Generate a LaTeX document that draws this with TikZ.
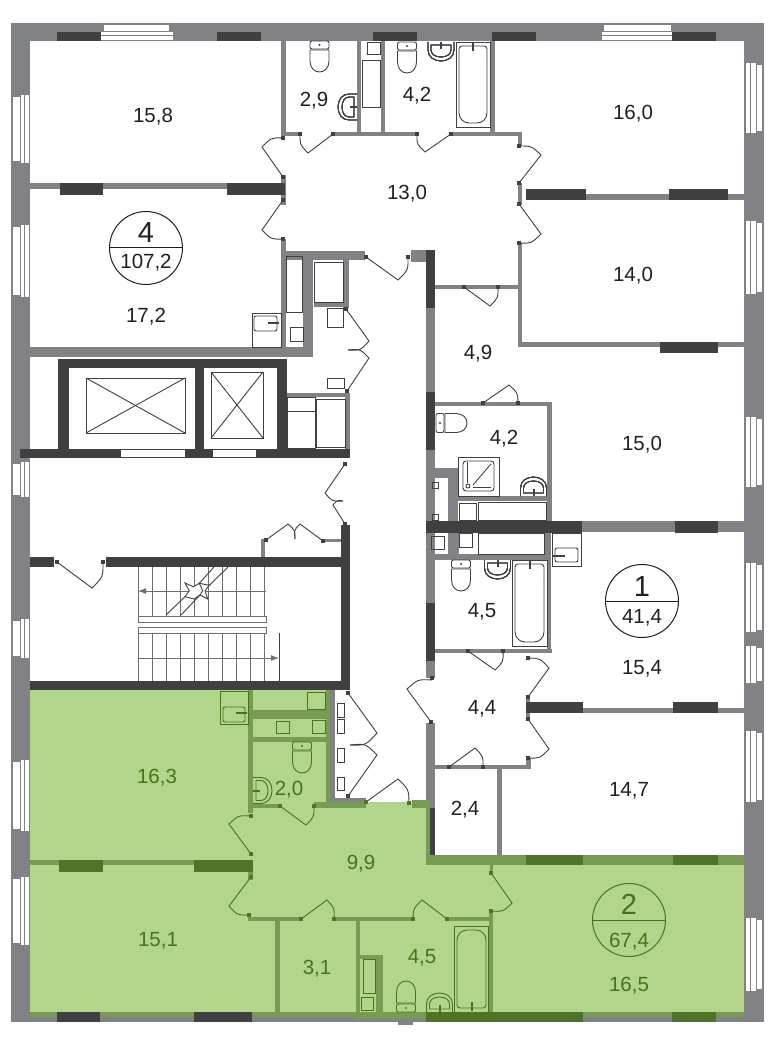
\documentclass[tikz,border=0pt]{standalone}
\usepackage{fontspec}
\setmainfont{Liberation Sans}
\usetikzlibrary{calc,arrows.meta}
\definecolor{wallgray}{HTML}{808285}
\definecolor{walldark}{HTML}{404041}
\definecolor{wallgreen}{HTML}{779B52}
\definecolor{darkgreen}{HTML}{4F7329}
\definecolor{roomgreen}{HTML}{B1D68B}
\definecolor{textgreen}{HTML}{487419}
\definecolor{textblack}{HTML}{231F20}
\colorlet{fixcol}{walldark}
\tikzset{
  fixline/.style={draw=fixcol,line width=0.9pt},
  tapline/.style={draw=fixcol,line width=2pt},
  doorline/.style={draw=fixcol,line width=0.9pt},
  stairline/.style={draw=wallgray!85!black,line width=1pt},
  roomlabel/.style={font=\fontsize{20.5}{24}\selectfont,text=textblack,inner sep=0pt,anchor=base,yshift=-7pt},
  greenlabel/.style={roomlabel,text=textgreen},
  bignum/.style={roomlabel,font=\fontsize{29}{32}\selectfont,yshift=-3pt},
  flatmark/.style={circle,draw=textblack,line width=1pt,minimum size=73pt,inner sep=0pt},
}
% one door leaf: base, tip of leaf, end of swing
\newcommand{\doorleaf}[6]{%
  \draw[doorline] (#1,#2) -- (#3,#4)
    .. controls ($.57*(#3,#4)+.57*(#5,#6)-.14*(#1,#2)$) .. (#5,#6);}
\newcommand{\toilet}[3]{%
  \begin{scope}[shift={(#1,#2)},rotate=#3]
    \draw[fixline,rounded corners=2pt] (-9.5,0) rectangle (9.5,8);
    \fill[fixcol] (0,4) circle(1.2);
    \draw[fixline] (-9.5,9) -- (-9.5,20) .. controls (-9.5,27) and (-5,31) .. (0,31)
      .. controls (5,31) and (9.5,27) .. (9.5,20) -- (9.5,9) -- cycle;
  \end{scope}}
\newcommand{\washbasin}[3]{%
  \begin{scope}[shift={(#1,#2)},rotate=#3]
    \draw[fixline] (-13,0) -- (-13,8) .. controls (-13,15) and (-7,19) .. (0,19)
      .. controls (7,19) and (13,15) .. (13,8) -- (13,0);
    \draw[fixline] (-10,3) -- (-10,8) .. controls (-10,12) and (-6,15) .. (0,15)
      .. controls (6,15) and (10,12) .. (10,8) -- (10,3) -- cycle;
    \draw[tapline] (0,0) -- (0,7);
  \end{scope}}
\begin{document}
\begin{tikzpicture}[x=1pt,y=-1pt]
  \useasboundingbox (0,0) rectangle (770,1040);
  \fill[white] (0,0) rectangle (770,1040);
  % flat 2
  \fill[roomgreen] (30,690) -- (330,690) -- (330,806) -- (366,806) -- (366,802) -- (426,802)
    -- (426,860) -- (744,860) -- (744,1012) -- (30,1012) -- cycle;
  % walls
  \foreach \xa/\ya/\xb/\yb in {11/23/764/41,11/23/30/1022,744/23/764/1022,11/1012/764/1022,398/1022/413/1025,
      30/183/284/189,281/41/286/136,281/239/286/357,30/347/313/357,303/251/313/357,281/251/365/260,
      281/132/300/136,333/132/417/136,451/132/522/136,357/41/361/135,381/41/385/135,490/41/495/135,
      518/132/522/146,518/183/522/205,281/175/286/205,586/194/744/200,518/243/522/347,518/342/744/347,
      411/250/426/262,426/308/435/392,426/450/435/521,582/521/744/532,426/533/435/603,426/661/435/678,
      435/285/518/289,435/402/552/406,547/402/552/522,435/649/552/653,547/533/551/653,
      435/468/458/478,448/468/458/558,458/496/547/501,435/554/547/560,452/533/459/560,544/533/547/560,
      343/260/349/308,314/302/349/307,287/393/350/397,345/393/350/449,324/539/341/542,261/539/265/557,
      526/708/744/713,526/697/530/720,526/758/531/769,435/765/531/769,497/769/502/855,426/723/435/808,
      330/690/335/802,330/798/366/802}
    \fill[wallgray] (\xa,\ya) rectangle (\xb,\yb);
  \foreach \xa/\ya/\xb/\yb in {248/690/253/813,326/690/330/804,253/710/330/719,253/737/330/742,
      248/804/280/808,314/802/366/808,412/800/430/808,426/808/430/865,426/855/744/865,30/860/253/865,248/872/253/880,
      248/917/301/921,334/917/413/921,447/917/493/921,275/921/280/1012,356/921/360/1012,360/955/383/959,
      376/955/383/1012,489/911/493/1012,490/865/493/873,30/1012/744/1017,356/1012/426/1019}
    \fill[wallgreen] (\xa,\ya) rectangle (\xb,\yb);
  \foreach \xa/\ya/\xb/\yb in {60/183/103/195,227/183/285/195,57/32/101/41,217/32/261/41,373/32/417/41,
      492/32/536/41,672/32/716/41,526/189/586/200,669/189/728/200,660/342/718/353,426/250/435/308,
      426/392/435/450,426/521/582/533,675/521/718/533,426/603/435/661,526/702/583/713,673/702/718/713,
      430/808/435/855,58/359/287/368,58/359/69/449,195/359/204/449,277/359/287/449,20/449/350/458,
      341/525/350/690,30/557/54/567,106/557/341/567,30/681/350/690,57/1012/100/1022,194/1012/252/1022}
    \fill[walldark] (\xa,\ya) rectangle (\xb,\yb);
  \foreach \xa/\ya/\xb/\yb in {59/860/103/872,194/860/253/872,526/855/583/865,673/855/718/865,
      426/1012/583/1022,672/1012/716/1022}
    \fill[darkgreen] (\xa,\ya) rectangle (\xb,\yb);
  % lift doors
  \foreach \xa/\xb in {121/185,213/256}
    \fill[white] (\xa,450) rectangle (\xb,457);
  % windows, top
  \foreach \xa/\xb in {104/169,604/671}
    \fill[white] (\xa,25) rectangle (\xb,31);
  \foreach \xa/\xb in {101/173,602/672}{
    \fill[white] (\xa,32.5) rectangle (\xb,35);
    \fill[white] (\xa,36) rectangle (\xb,40);
  }
  % windows, left and right
  \foreach \ya/\yb in {95/163,225/297,462/497,619/658,760/831,877/945}{
    \fill[white] (13,\ya+2) rectangle (20,\yb-2);
    \fill[white] (21,\ya) rectangle (24,\yb);
    \fill[white] (25,\ya) rectangle (29,\yb);
  }
  \foreach \ya/\yb in {63/133,221/294,417/487,563/632,646/683,731/802,918/991}{
    \fill[white] (746,\ya) rectangle (750,\yb);
    \fill[white] (751,\ya) rectangle (756,\yb);
    \fill[white] (757,\ya+2) rectangle (762,\yb-2);
  }
  % lifts
  \foreach \xa/\ya/\xb/\yb in {86/378/185/433,211/372/263/438}{
    \draw[fixline] (\xa,\ya) rectangle (\xb,\yb);
    \draw[fixline] (\xa,\ya) -- (\xb,\yb);
    \draw[fixline] (\xa,\yb) -- (\xb,\ya);
  }
  % stairs
  \foreach \sx in {138,152,...,266}{
    \draw[stairline] (\sx,567) -- (\sx,616);
    \draw[stairline] (\sx,633) -- (\sx,681);
  }
  \draw[stairline] (138,616) rectangle (266,622);
  \draw[stairline] (138,627) rectangle (266,633);
  \draw[stairline,-{Latex[length=8pt,width=6pt]}] (266,591) -- (138,591);
  \draw[stairline,-{Latex[length=8pt,width=6pt]}] (138,658) -- (279,658);
  \draw[doorline] (279,633) -- (279,681);
  \fill[white,draw=fixcol,line width=0.9pt] (185,583) -- (193.3,586.7) -- (199.3,583.3) -- (209.3,585.3) -- (205,590.7)
    -- (207.7,599) -- (200,595) -- (194,599) -- (185,596.7) -- (189.3,590.7) -- cycle;
  \draw[doorline] (199.3,583.3) -- (202.7,590.7) -- (200,595);
  \draw[doorline] (214,567) -- (199.3,583.3);
  \draw[doorline] (228,567) -- (209.3,585.3);
  \draw[doorline] (166,615) -- (185,596.7);
  \draw[doorline] (181,615) -- (200,595);
  % doors
  \foreach \ax/\ay/\bx/\by/\cx/\cy in {283/177/262/147/283/138,283/200/262/230/283/239,333/134/308/153/300/134,
      451/134/425/152/417/134,519/183/541/155/519/146,519/204/541/234/519/243,366/257/398/280/408/257,
      464/287/490/306/498/287,483/403/509/385/518/403,468/651/495/670/503/651,528/697/549/668/528/658,
      528/719/549/749/528/758,449/767/475/748/483/767,431/722/407/689/432/680,346/309/369/341/348/350,
      347/391/369/358/348/350,345/464/325/493/343/501,345/524/333/505/343/501,266/540/288/524/295/539,
      323/541/300/524/295/539,57/562/92/588/103/562,348/693/377/733/350/745,348/796/377/755/350/745,
      366/802/398/779/409/803}
    \doorleaf{\ax}{\ay}{\bx}{\by}{\cx}{\cy}
  \foreach \hx/\hy in {283/138,283/177,283/200,283/239,300/134,333/134,417/134,451/134,519/146,519/183,
      519/204,519/243,366/257,408/257,464/287,498/287,483/403,518/403,468/651,503/651,528/658,528/697,
      528/719,528/758,449/767,483/767,431/722,432/678,346/309,347/391,345/464,345/524,266/540,323/541,
      57/562,103/562,348/693,348/796}
    \fill[walldark] (\hx-2,\hy-2) rectangle (\hx+2,\hy+2);
  % shafts and boxes
  \foreach \xa/\ya/\xb/\yb in {286/256/302/312,290/327/303/341,327/308/343/327,314/262/343/302,327/378/344/388,
      362/60/380/107,367/42/380/54,287/397/315/448,316/399/345/447,432/482/438/488,432/514/438/520,
      431/536/444/549,459/503/476/520,478/502/546/520,459/533/472/547,478/533/544/554,
      337/703/344/717,337/719/344/733,337/748/344/762,337/777/344/790}
    \draw[fixline] (\xa,\ya) rectangle (\xb,\yb);
  \draw[fixline] (287,411) -- (315,411);
  % sanitary fittings
  \foreach \tx/\ty/\tr in {319.5/41/0,407/42/0,436/423/90,461/560/0}
    \toilet{\tx}{\ty}{\tr}
  \foreach \tx/\ty/\tr in {357/107/-90,441/42/0,533.5/496/180,497.5/560/0}
    \washbasin{\tx}{\ty}{\tr}
  % baths
  \draw[fixline] (456,42) rectangle (490,127);
  \draw[fixline,rounded corners=10pt] (459,60) -- (459,123) -- (487,123) -- (487,60);
  \draw[fixline,rounded corners=3pt] (459,60) -- (459,46) -- (487,46) -- (487,60);
  \draw[tapline] (473,43) -- (473,51);
  \draw[fixline] (512,560) rectangle (547,646);
  \draw[fixline,rounded corners=10pt] (515,580) -- (515,642) -- (544,642) -- (544,580);
  \draw[fixline,rounded corners=3pt] (515,580) -- (515,564) -- (544,564) -- (544,580);
  \draw[tapline] (530,561) -- (530,569);
  % shower
  \draw[fixline] (458,457) rectangle (499,496);
  \draw[fixline,rounded corners=3pt] (463,461) rectangle (494,491);
  \draw[fixline] (467,462) -- (467,483);
  \draw[fixline] (473,485) -- (491,464);
  \draw[fixline] (473,487) -- (491,487);
  \draw[fixline] (468,486) circle(2);
  % lavatories
  \draw[fixline] (252,313) rectangle (281,347);
  \draw[fixline,rounded corners=2pt] (254,316) rectangle (277,331);
  \draw[tapline] (268,323) -- (279,323);
  \draw[fixline] (552,533) rectangle (581,566);
  \draw[fixline,rounded corners=2pt] (555,548) rectangle (578,562);
  \draw[tapline] (553,556) -- (565,556);
  % fittings of flat 2
  \begin{scope}
    \colorlet{fixcol}{textgreen}
    \foreach \ax/\ay/\bx/\by/\cx/\cy in {251/854/229/824/251/816,251/877/229/906/249/915,280/806/306/825/314/806,
        301/919/327/900/334/919,447/919/422/900/413/919,491/873/512/903/491/911}
      \doorleaf{\ax}{\ay}{\bx}{\by}{\cx}{\cy}
    \foreach \hx/\hy in {251/816,251/854,251/877,249/915,280/806,314/806,301/919,334/919,413/919,447/919,
        491/873,491/911,366/802,409/803}
      \fill[darkgreen] (\hx-2,\hy-2) rectangle (\hx+2,\hy+2);
    \foreach \xa/\ya/\xb/\yb in {307/692/325/709,276/721/289/733,312/720/325/733,
        363/959/375/993,361/997/373/1010}
      \draw[fixline] (\xa,\ya) rectangle (\xb,\yb);
    \toilet{302}{742}{0}
    \toilet{406}{1012}{180}
    \washbasin{253}{790.5}{90}
    \washbasin{439.5}{1012}{180}
    \draw[fixline] (454,926) rectangle (488,1012);
    \draw[fixline,rounded corners=10pt] (457,990) -- (457,930) -- (486,930) -- (486,990);
    \draw[fixline,rounded corners=3pt] (457,990) -- (457,1008) -- (486,1008) -- (486,990);
    \draw[tapline] (472,1002) -- (472,1011);
    \draw[fixline] (220,691) rectangle (248,724);
    \draw[fixline,rounded corners=2pt] (223,707) rectangle (245,722);
    \draw[tapline] (236,713) -- (247,713);
  \end{scope}
  % areas
  \node[roomlabel] (r158) at (153,116) {15,8};
  \node[roomlabel] (r172) at (146,315) {17,2};
  \node[roomlabel] (r29) at (314,100) {2,9};
  \node[roomlabel] (r42a) at (417,95) {4,2};
  \node[roomlabel] (r160) at (633,113) {16,0};
  \node[roomlabel] (r130) at (407,193) {13,0};
  \node[roomlabel] (r140) at (633,274) {14,0};
  \node[roomlabel] (r49) at (478,352) {4,9};
  \node[roomlabel] (r42b) at (504,437) {4,2};
  \node[roomlabel] (r150) at (642,443) {15,0};
  \node[roomlabel] (r45a) at (482,610) {4,5};
  \node[roomlabel] (r154) at (642,667) {15,4};
  \node[roomlabel] (r44) at (482,707) {4,4};
  \node[roomlabel] (r24) at (465,808) {2,4};
  \node[roomlabel] (r147) at (629,789) {14,7};
  \node[greenlabel] (r163) at (157,776) {16,3};
  \node[greenlabel] (r20) at (289,788) {2,0};
  \node[greenlabel] (r99) at (361,862) {9,9};
  \node[greenlabel] (r151) at (158,939) {15,1};
  \node[greenlabel] (r31) at (317,967) {3,1};
  \node[greenlabel] (r45b) at (422,956) {4,5};
  \node[greenlabel] (r165) at (629,984) {16,5};
  % flat marks
  \node[flatmark] (mark4) at (146,248) {};
  \draw[draw=textblack,line width=1pt] (mark4.west) -- (mark4.east);
  \node[bignum] (num4) at (146,233) {4};
  \node[roomlabel] (area4) at (146,262) {107,2};
  \node[flatmark] (mark1) at (642,601) {};
  \draw[draw=textblack,line width=1pt] (mark1.west) -- (mark1.east);
  \node[bignum] (num1) at (642,586) {1};
  \node[roomlabel] (area1) at (642,616) {41,4};
  \node[flatmark,draw=textgreen] (mark2) at (629,920) {};
  \draw[draw=textgreen,line width=1pt] (mark2.west) -- (mark2.east);
  \node[bignum,text=textgreen] (num2) at (629,904) {2};
  \node[greenlabel] (area2) at (629,940) {67,4};
\end{tikzpicture}
\end{document}
